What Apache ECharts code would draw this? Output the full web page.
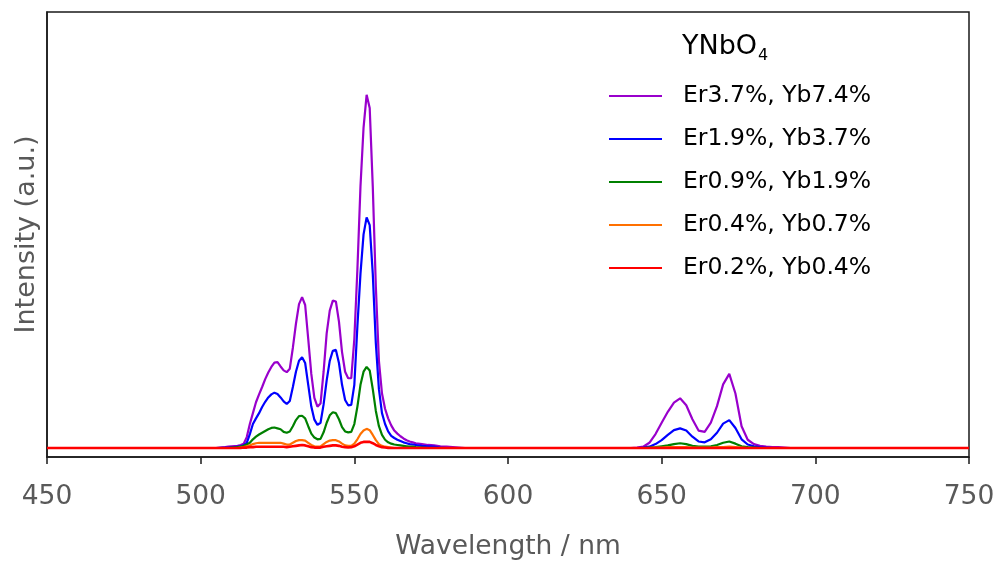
<!DOCTYPE html>
<html>
<head>
<meta charset="utf-8">
<script src="https://cdn.jsdelivr.net/npm/echarts@6/dist/echarts.min.js"></script>
<style>
html,body{margin:0;padding:0;background:#fff;}
#chart{width:1001px;height:568px;}
</style>
</head>
<body>
<div id="chart"></div>
<script>
// Wavelength grids (nm)
const edgesLow = [450, 500];
const bandA = [505, 508, 509, 510, 511, 512, 513, 514, 515, 516, 517, 518, 519, 520, 521, 522, 523, 524, 525, 526, 527, 528, 529, 530, 531, 532, 533, 534, 535, 536, 537, 538, 539, 540, 541, 542, 543, 544, 545, 546, 547, 548, 549, 550, 551, 552, 553, 554, 555, 556, 557, 558, 559, 560, 561, 562, 563, 564, 565, 566, 567, 568, 569, 570, 572, 574, 576, 578, 580, 582, 584, 586];
const edgesMid = [600, 630];
const bandB = [640, 642, 644, 646, 648, 650, 652, 654, 656, 658, 660, 662, 664, 666, 668, 670, 672, 674, 676, 678, 680, 682, 684, 686, 688, 690, 692];
const edgesHigh = [700, 750];

const seriesNames = ['Er3.7%, Yb7.4%', 'Er1.9%, Yb3.7%', 'Er0.9%, Yb1.9%', 'Er0.4%, Yb0.7%', 'Er0.2%, Yb0.4%'];
const seriesColors = ['#9900CC', '#0000FF', '#008000', '#FF7000', '#FF0000'];

// Intensities (a.u.) on bandA
const er37A = [0, 0.2, 0.3, 0.4, 0.45, 0.5, 0.7, 1.0, 2.5, 5.5, 8.0, 10.5, 12.3, 14.0, 15.8, 17.3, 18.6, 19.6, 19.7, 18.7, 17.8, 17.4, 18.2, 23.0, 28.5, 33.0, 34.6, 32.8, 25.0, 17.0, 11.5, 9.5, 10.2, 17.5, 26.3, 31.5, 33.8, 33.6, 29.0, 22.0, 17.5, 16.0, 16.0, 25.0, 41.0, 60.0, 73.5, 81.0, 78.0, 60.0, 37.0, 20.0, 12.5, 9.0, 6.8, 5.2, 4.0, 3.3, 2.7, 2.2, 1.8, 1.5, 1.3, 1.1, 0.9, 0.7, 0.6, 0.4, 0.3, 0.2, 0.1, 0];
const er19A = [0, 0.1, 0.1, 0.2, 0.2, 0.3, 0.4, 0.6, 1.2, 3.2, 5.5, 6.8, 8.0, 9.4, 10.6, 11.6, 12.3, 12.7, 12.4, 11.6, 10.7, 10.1, 10.8, 14.0, 17.5, 20.0, 20.8, 19.5, 14.5, 9.5, 6.5, 5.3, 5.8, 10.0, 15.5, 20.0, 22.3, 22.5, 19.5, 14.5, 11.0, 9.8, 9.9, 14.5, 28.0, 40.0, 49.0, 52.9, 51.1, 40.0, 24.0, 13.5, 8.0, 5.5, 3.8, 2.8, 2.3, 1.9, 1.6, 1.3, 1.1, 0.9, 0.8, 0.7, 0.5, 0.4, 0.3, 0.1, 0, 0, 0, 0];
const er09A = [0, 0, 0, 0.1, 0.1, 0.2, 0.3, 0.5, 0.8, 1.2, 2.0, 2.6, 3.1, 3.5, 3.9, 4.3, 4.6, 4.7, 4.5, 4.3, 3.7, 3.5, 3.8, 5.0, 6.4, 7.3, 7.4, 6.8, 5.0, 3.3, 2.4, 2.0, 2.1, 3.6, 5.8, 7.5, 8.2, 8.0, 6.6, 4.8, 3.8, 3.6, 3.7, 5.5, 9.5, 14.5, 17.5, 18.6, 17.8, 13.5, 8.5, 5.0, 3.0, 1.9, 1.3, 1.0, 0.8, 0.7, 0.6, 0.5, 0.4, 0.3, 0.3, 0.2, 0.1, 0, 0, 0, 0, 0, 0, 0];
const er04A = [0, 0, 0, 0, 0, 0, 0.1, 0.2, 0.4, 0.6, 0.9, 1.1, 1.2, 1.2, 1.2, 1.2, 1.2, 1.2, 1.2, 1.2, 1.0, 0.8, 0.8, 1.2, 1.6, 1.8, 1.8, 1.7, 1.2, 0.7, 0.4, 0.3, 0.4, 0.9, 1.4, 1.7, 1.8, 1.8, 1.5, 1.0, 0.6, 0.5, 0.5, 1.0, 2.0, 3.2, 4.0, 4.4, 4.1, 3.0, 1.8, 0.9, 0.5, 0.3, 0.2, 0.1, 0, 0, 0, 0, 0, 0, 0, 0, 0, 0, 0, 0, 0, 0, 0, 0];
const er02A = [0, 0, 0, 0, 0, 0, 0, 0.1, 0.1, 0.2, 0.2, 0.3, 0.3, 0.3, 0.3, 0.3, 0.3, 0.3, 0.3, 0.3, 0.3, 0.2, 0.3, 0.4, 0.5, 0.6, 0.7, 0.6, 0.4, 0.2, 0.1, 0.1, 0.1, 0.3, 0.4, 0.5, 0.6, 0.6, 0.5, 0.3, 0.2, 0.1, 0.2, 0.4, 0.8, 1.2, 1.4, 1.45, 1.4, 1.1, 0.7, 0.4, 0.2, 0.1, 0, 0, 0, 0, 0, 0, 0, 0, 0, 0, 0, 0, 0, 0, 0, 0, 0, 0];

// Intensities (a.u.) on bandB
const er37B = [0, 0.1, 0.3, 1.2, 3.2, 5.8, 8.3, 10.4, 11.4, 9.8, 6.6, 4.0, 3.7, 5.8, 9.6, 14.6, 17.0, 12.5, 5.0, 1.9, 0.9, 0.5, 0.3, 0.2, 0.2, 0.1, 0];
const er19B = [0, 0, 0.1, 0.3, 0.9, 1.8, 3.0, 4.1, 4.5, 4.0, 2.6, 1.5, 1.3, 2.0, 3.5, 5.6, 6.4, 4.6, 2.0, 0.8, 0.4, 0.2, 0.1, 0, 0, 0, 0];
const er09B = [0, 0, 0, 0.1, 0.2, 0.4, 0.6, 0.9, 1.1, 0.9, 0.5, 0.3, 0.3, 0.4, 0.7, 1.2, 1.5, 1.0, 0.4, 0.2, 0.1, 0, 0, 0, 0, 0, 0];
const er04B = [0, 0, 0, 0, 0.1, 0.1, 0.2, 0.2, 0.2, 0.2, 0.1, 0.1, 0.1, 0.1, 0.2, 0.2, 0.3, 0.2, 0.1, 0, 0, 0, 0, 0, 0, 0, 0];
const er02B = [0, 0, 0, 0, 0, 0, 0, 0, 0, 0, 0, 0, 0, 0, 0, 0, 0, 0, 0, 0, 0, 0, 0, 0, 0, 0, 0];

const bandAValues = [er37A, er19A, er09A, er04A, er02A];
const bandBValues = [er37B, er19B, er09B, er04B, er02B];

const xTicks = [450, 500, 550, 600, 650, 700, 750];

function buildData(aVals, bVals) {
  const out = [];
  edgesLow.forEach(x => out.push([x, 0]));
  bandA.forEach((x, i) => out.push([x, aVals[i]]));
  edgesMid.forEach(x => out.push([x, 0]));
  bandB.forEach((x, i) => out.push([x, bVals[i]]));
  edgesHigh.forEach(x => out.push([x, 0]));
  return out;
}

const FONT = 'DejaVu Sans';
const chart = echarts.init(document.getElementById('chart'), null, {renderer: 'canvas'});

const lineWidths = [2.2, 2.2, 2.2, 2.2, 2.6];
const series = seriesNames.map((name, k) => ({
  name: name,
  type: 'line',
  data: buildData(bandAValues[k], bandBValues[k]),
  showSymbol: false,
  symbol: 'none',
  lineStyle: {color: seriesColors[k], width: lineWidths[k]},
  itemStyle: {color: seriesColors[k]},
  z: 2 + k,
  animation: false
}));

chart.setOption({
  animation: false,
  backgroundColor: '#fff',
  grid: {left: 47, right: 32, top: 12, bottom: 111, show: true, borderColor: '#1a1a1a', borderWidth: 1.5, backgroundColor: 'transparent'},
  title: {
    text: 'YNbO{s|4}',
    left: 682,
    top: 33,
    padding: 0,
    textStyle: {
      fontFamily: FONT, fontSize: 27, fontWeight: 'normal', color: '#000',
      rich: {s: {fontFamily: FONT, fontSize: 16, color: '#000', padding: [15, 0, 0, 1], lineHeight: 16, verticalAlign: 'top'}}
    }
  },
  legend: {
    orient: 'vertical',
    left: 609,
    top: 84,
    padding: 0,
    icon: 'rect',
    itemWidth: 53,
    itemHeight: 2,
    itemGap: 19,
    data: seriesNames,
    textStyle: {fontFamily: FONT, fontSize: 23.5, color: '#000', lineHeight: 23, padding: [0, 0, 0, 16]}
  },
  xAxis: {
    type: 'value',
    min: 450,
    max: 750,
    interval: 50,
    name: 'Wavelength / nm',
    nameLocation: 'middle',
    nameGap: 77,
    nameTextStyle: {fontFamily: FONT, fontSize: 26.5, color: '#595959'},
    axisLine: {show: true, onZero: false, lineStyle: {color: '#1a1a1a', width: 1.5}},
    axisTick: {show: true, length: 7, inside: false, lineStyle: {color: '#1a1a1a', width: 1.5}},
    axisLabel: {
      margin: 27, fontFamily: FONT, fontSize: 26.5, color: '#595959',
      formatter: v => xTicks.indexOf(v) >= 0 ? String(v) : ''
    },
    splitLine: {show: false}
  },
  yAxis: {
    type: 'value',
    min: -2.06,
    max: 100,
    name: 'Intensity (a.u.)',
    nameLocation: 'middle',
    nameGap: 7,
    nameTextStyle: {fontFamily: FONT, fontSize: 27, color: '#595959'},
    axisLine: {show: true, lineStyle: {color: '#1a1a1a', width: 1.5}},
    axisTick: {show: false},
    axisLabel: {show: false},
    splitLine: {show: false}
  },
  series: series
});
</script>
</body>
</html>
